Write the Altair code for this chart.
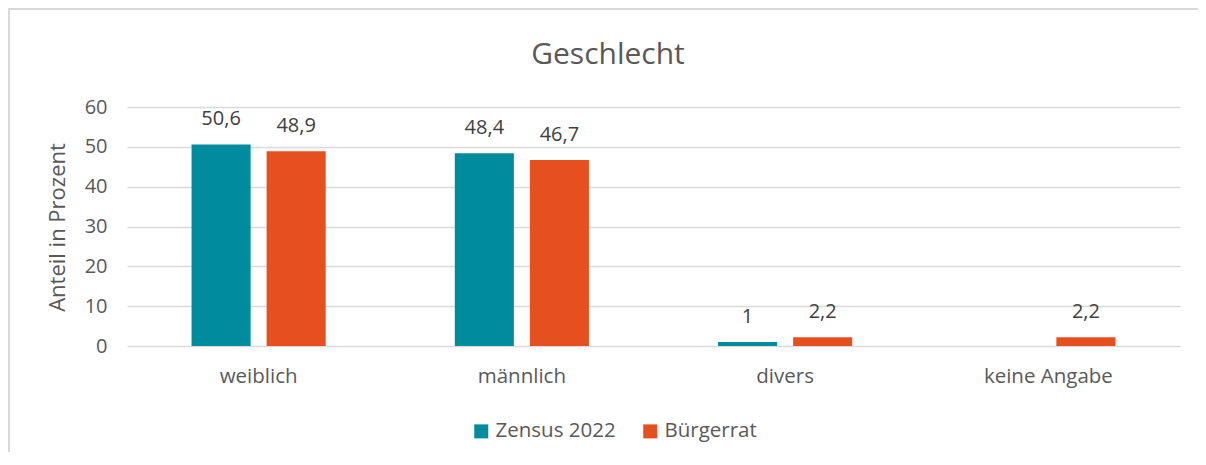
import altair as alt
import pandas as pd

categories = ["weiblich", "männlich", "divers", "keine Angabe"]
series = ["Zensus 2022", "Bürgerrat"]
zensus = [50.6, 48.4, 1.0, None]
buergerrat = [48.9, 46.7, 2.2, 2.2]
colors = ["#008C9E", "#E6501E"]
title_text = "Geschlecht"

rows = []
for cat, z, b in zip(categories, zensus, buergerrat):
    for s, v in ((series[0], z), (series[1], b)):
        if v is None:
            continue
        rows.append({"Kategorie": cat, "Serie": s, "Wert": v,
                     "Label": f"{v:g}".replace(".", ",")})
df = pd.DataFrame(rows)

FONT = "Open Sans"
W, H = 1053, 239

x = alt.X("Kategorie:N", sort=categories,
          scale=alt.Scale(paddingInner=0, paddingOuter=0),
          axis=alt.Axis(title=None, labelAngle=0, ticks=False, domain=False,
                        labelFontSize=20.5, labelColor="#595959", labelFont=FONT,
                        labelPadding=20))
xo = alt.XOffset("Serie:N", sort=series,
                 scale=alt.Scale(domain=series, paddingInner=0.213, paddingOuter=0.86))
y = alt.Y("Wert:Q", scale=alt.Scale(domain=[0, 60]),
          axis=alt.Axis(values=[0, 10, 20, 30, 40, 50, 60], title="Anteil in Prozent",
                        ticks=False, domain=False, gridColor="#D9D9D9", gridWidth=1.3,
                        labelFontSize=20, labelColor="#595959", labelFont=FONT,
                        labelPadding=20, titleFontSize=22, titleFont=FONT,
                        titleColor="#595959", titleFontWeight="normal",
                        titleX=-70, titleY=120, titleBaseline="middle"))
color = alt.Color("Serie:N", sort=series,
                  scale=alt.Scale(domain=series, range=colors),
                  legend=alt.Legend(title=None, orient="none", legendX=344, legendY=314,
                                    direction="horizontal", symbolType="square",
                                    symbolSize=196, symbolStrokeWidth=0,
                                    labelFontSize=20.5, labelFont=FONT,
                                    labelColor="#595959", labelOffset=4,
                                    columnPadding=24))

base = alt.Chart(df)
bars = base.mark_bar().encode(x=x, xOffset=xo, y=y, color=color)
labels = base.mark_text(fontSize=20, font=FONT, color="#404040", dy=-19,
                        baseline="alphabetic").encode(
    x=x, xOffset=xo, y=y, text="Label:N")

title = alt.Chart(pd.DataFrame({"t": [title_text]})).mark_text(
    fontSize=30, font=FONT, color="#595959", baseline="alphabetic", align="center"
).encode(x=alt.value(481), y=alt.value(-43), text="t:N")

one = pd.DataFrame({"k": [0]})
border_top = alt.Chart(one).mark_rect(color="#D9D9D9").encode(
    x=alt.value(-119), x2=alt.value(1100), y=alt.value(-99), y2=alt.value(-97))
border_left = alt.Chart(one).mark_rect(color="#D9D9D9").encode(
    x=alt.value(-119), x2=alt.value(-117), y=alt.value(-99), y2=alt.value(370))

chart = alt.layer(border_top, border_left, title, bars, labels).properties(
    width=W, height=H,
    autosize=alt.AutoSizeParams(type="none"),
    padding={"left": 119, "top": 99, "right": 18, "bottom": 106},
).configure_view(stroke=None)

chart.save("out.html", embed_options={"renderer": "svg", "actions": False})
